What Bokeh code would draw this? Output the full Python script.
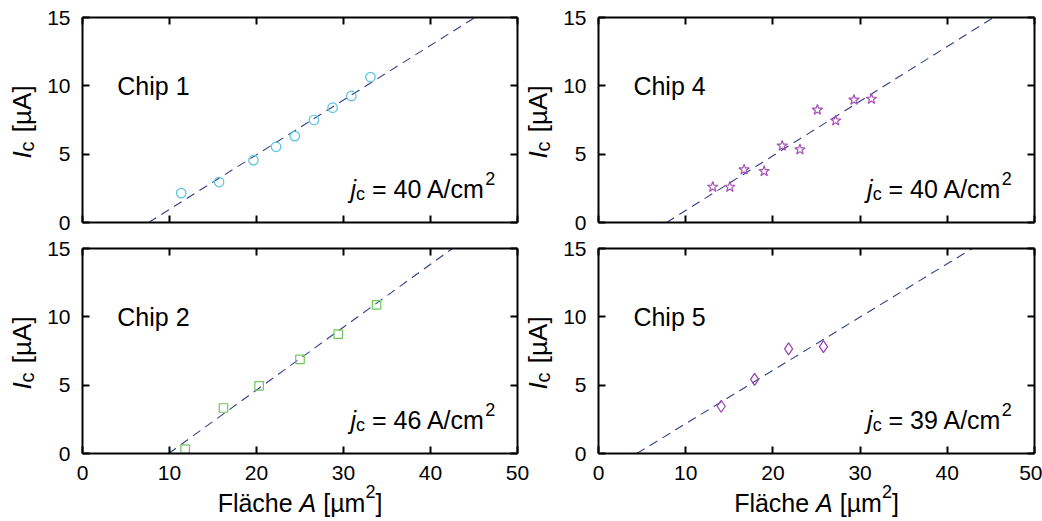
import numpy as np
from bokeh.plotting import figure
from bokeh.models import Range1d, FixedTicker, LinearAxis, Label, GridBox
from bokeh.embed import file_html
from bokeh.resources import INLINE

FONT = "Liberation Sans"

# Junction area A [µm^2] and critical current Ic [µA] per chip
chip1_area = [11.35, 15.7, 19.65, 22.25, 24.4, 26.6, 28.75, 30.9, 33.1]
chip1_ic = [2.15, 2.96, 4.56, 5.54, 6.32, 7.5, 8.4, 9.26, 10.64]

chip2_area = [11.8, 16.2, 20.3, 25.0, 29.4, 33.8]
chip2_ic = [0.32, 3.33, 4.95, 6.89, 8.73, 10.88]

chip4_area = [13.1, 15.06, 16.7, 19.0, 21.07, 23.1, 25.1, 27.2, 29.3, 31.3]
chip4_ic = [2.6, 2.6, 3.87, 3.75, 5.61, 5.34, 8.24, 7.45, 8.97, 9.04]

chip5_area = [14.07, 17.9, 21.8, 25.8]
chip5_ic = [3.46, 5.42, 7.65, 7.82]

# Linear fits: Ic = jc * (A - A0); jc in A/cm^2, A0 in µm^2
chip_labels = ["Chip 1", "Chip 2", "Chip 4", "Chip 5"]
jc_values = [40, 46, 40, 39]
area_offsets = [7.6, 9.9, 7.8, 4.4]

x_ticks = [0, 10, 20, 30, 40, 50]
y_ticks = [0, 5, 10, 15]

FIT_COLOR = "#343f88"

# page geometry (pixels)
COL_W = [540, 502]            # figure widths, left / right column
ROW_H = [236, 285]            # figure heights, top / bottom row
BORDER_LR = [(82, 23), (58, 8)]
BORDER_TB = [(17, 14), (12, 68)]

# Arial / Liberation Sans advance widths (1/1000 em) for laying out mixed-style text
ADV = {" ": 278, "=": 584, "/": 278, "[": 278, "]": 278, "A": 667, "C": 722, "F": 611,
       "I": 278, "a": 556, "ä": 556, "c": 500, "e": 556, "h": 556, "i": 222, "j": 222,
       "l": 222, "m": 833, "p": 556, "µ": 576}


def text_width(s, size):
    return sum(ADV.get(ch, 556) for ch in s) * size / 1000.0


def rich_width(pieces):
    return sum(text_width(t, s) + gap for t, s, _, _, gap in pieces)


def rich_text(p, pieces, x, y, angle=0.0):
    """Draw a run of text pieces (text, size, italic, baseline shift, extra gap)."""
    pos = 0.0
    for txt, size, italic, shift, gap in pieces:
        shown = txt.lstrip(" ")
        lead = text_width(txt[:len(txt) - len(shown)], size)
        along = pos + lead
        if angle == 0:
            dx, dy = along, shift
        else:
            dx, dy = -shift, along
        p.add_layout(Label(x=x, y=y, x_offset=dx, y_offset=dy, text=shown, angle=angle,
                           text_font=FONT, text_font_size=f"{size}px",
                           text_font_style="italic" if italic else "normal",
                           text_align="left", text_baseline="alphabetic",
                           text_color="black"))
        pos += text_width(txt, size) + gap


def style_axis(ax, ticks, show_labels):
    ax.ticker = FixedTicker(ticks=ticks)
    ax.major_tick_in = 7
    ax.major_tick_out = 0
    ax.minor_tick_line_color = None
    ax.axis_line_width = 2
    ax.axis_line_color = "black"
    ax.major_tick_line_width = 2
    ax.major_tick_line_color = "black"
    ax.major_label_text_font = FONT
    ax.major_label_text_font_size = "21px"
    ax.major_label_text_color = "black"
    if show_labels:
        ax.major_label_standoff = 12
    else:
        ax.major_label_standoff = 0
        ax.major_label_overrides = {t: "" for t in ticks}


def make_panel(area, ic, marker, size, color, idx, r, c):
    left, right = BORDER_LR[c]
    top, bottom = BORDER_TB[r]
    p = figure(width=COL_W[c], height=ROW_H[r], output_backend="svg",
               toolbar_location=None,
               x_range=Range1d(0, 50), y_range=Range1d(0, 15),
               min_border_left=left, min_border_right=right,
               min_border_top=top, min_border_bottom=bottom)
    p.xgrid.grid_line_color = None
    p.ygrid.grid_line_color = None
    p.outline_line_color = None
    p.background_fill_color = "white"
    p.border_fill_color = "white"

    style_axis(p.xaxis[0], x_ticks, r == 1)
    style_axis(p.yaxis[0], y_ticks, True)
    top_ax = LinearAxis()
    right_ax = LinearAxis()
    style_axis(top_ax, x_ticks, False)
    style_axis(right_ax, y_ticks, False)
    p.add_layout(top_ax, "above")
    p.add_layout(right_ax, "right")

    # fitted line from Ic = 0 up to the top of the axis
    slope = jc_values[idx] * 0.01
    a0 = area_offsets[idx]
    a_fit = np.array([a0, a0 + 15.0 / slope])
    p.line(a_fit, slope * (a_fit - a0), line_color=FIT_COLOR, line_width=1.1,
           line_dash="9 6")

    p.scatter(area, ic, marker=marker, size=size, fill_color=None,
              line_color=color, line_width=1.2)

    p.add_layout(Label(x=4.0, y=10.0, text=chip_labels[idx], text_font=FONT,
                       text_font_size="25px", text_align="left",
                       text_baseline="alphabetic", text_color="black"))

    jc_pieces = [("j", 25, True, 0, 0), ("c", 18, False, -5, 0),
                 (f" = {jc_values[idx]} A/cm", 25, False, 0, 0),
                 ("2", 18, False, 11, 0)]
    rich_text(p, jc_pieces, 30.8, 2.45)
    return p


panels = [
    make_panel(chip1_area, chip1_ic, "circle", 9.5, "#55c3e3", 0, 0, 0),
    make_panel(chip4_area, chip4_ic, "star", 11, "#a653b5", 2, 0, 1),
    make_panel(chip2_area, chip2_ic, "square", 8.5, "#6cc859", 1, 1, 0),
    make_panel(chip5_area, chip5_ic, "diamond", 12, "#9b3fae", 3, 1, 1),
]
cells = [(0, 0), (0, 1), (1, 0), (1, 1)]

# transparent sheet over the whole page carrying the axis titles
page_w, page_h = sum(COL_W), sum(ROW_H)
sheet = figure(width=page_w, height=page_h, output_backend="svg", toolbar_location=None,
               x_range=Range1d(0, page_w), y_range=Range1d(page_h, 0),
               x_axis_type=None, y_axis_type=None, min_border=0,
               background_fill_color=None, border_fill_color=None)
sheet.outline_line_color = None
sheet.grid.visible = False
if "frame_align" in sheet.properties():
    sheet.frame_align = False

y_title = [("I", 26, True, 0, 0), ("c", 20, False, -5, 2), (" [µA]", 26, False, 0, 0)]
x_title = [("Fläche ", 25, False, 0, 0), ("A", 25, True, 0, 0), (" [µm", 25, False, 0, 0),
           ("2", 18, False, 11, 0), ("]", 25, False, 0, 0)]

for r in range(2):
    fig_top = sum(ROW_H[:r])
    frame_top = fig_top + BORDER_TB[r][0]
    frame_bottom = fig_top + ROW_H[r] - BORDER_TB[r][1]
    frame_mid = (frame_top + frame_bottom) / 2 + 2
    for c in range(2):
        fig_left = sum(COL_W[:c])
        frame_left = fig_left + BORDER_LR[c][0]
        frame_right = fig_left + COL_W[c] - BORDER_LR[c][1]
        rich_text(sheet, y_title, frame_left - 61, frame_mid + rich_width(y_title) / 2,
                  angle=np.pi / 2)
        if r == 1:
            rich_text(sheet, x_title,
                      (frame_left + frame_right) / 2 - rich_width(x_title) / 2,
                      frame_bottom + 49)

children = [(p, r, c) for p, (r, c) in zip(panels, cells)]
children.append((sheet, 0, 0, 2, 2))
layout = GridBox(children=children)

open("out.html", "w").write(file_html(layout, INLINE))
